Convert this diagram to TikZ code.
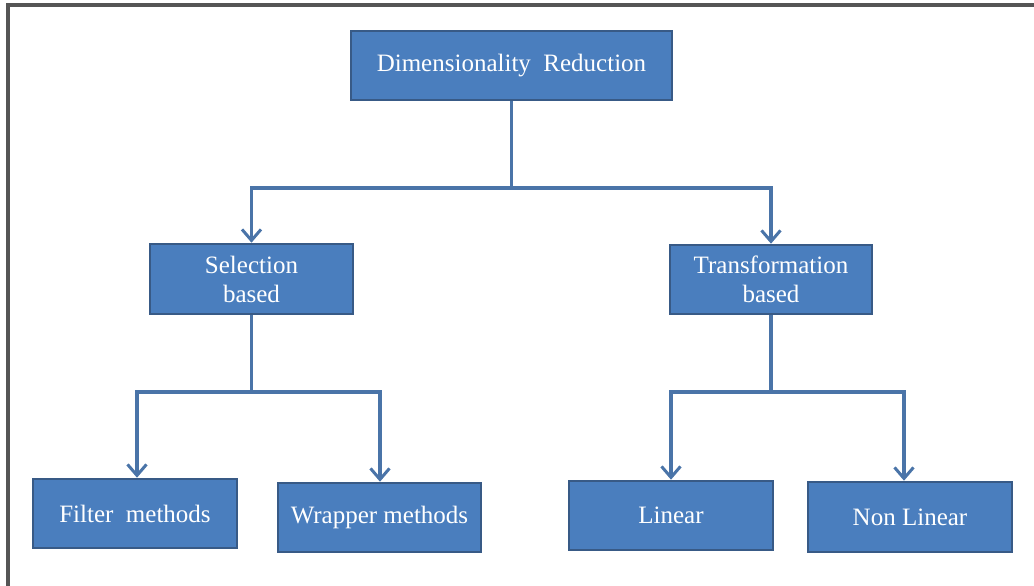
\documentclass[tikz,border=0pt]{standalone}
\usepackage{fontspec}
\setmainfont{Liberation Serif}
\usetikzlibrary{arrows.meta}
\definecolor{boxfill}{HTML}{4A7EBE}
\definecolor{boxedge}{HTML}{385A86}
\definecolor{linkcol}{HTML}{4A74A8}
\definecolor{framecol}{HTML}{555555}
\tikzset{
  box/.style={draw=boxedge, line width=2.6pt, fill=boxfill, text=white,
    minimum height=69pt, align=center, inner sep=2pt,
    font=\fontsize{25}{29}\selectfont},
  link/.style={draw=linkcol, line width=3.4pt},
  arrowlink/.style={link, -{Straight Barb[length=11pt, width=19pt, line width=3pt]}},
}
\begin{document}
\begin{tikzpicture}[x=1pt, y=-1pt]
\useasboundingbox (0,0) rectangle (1034,586);
% open frame: top and left edges
\draw[framecol, line width=3.2pt] (8,586) -- (8,5) -- (1034,5);

% root
\node[box, minimum width=321pt] (dr) at (511.5,65.5) {Dimensionality\ \ Reduction};
% second level
\node[box, minimum width=203pt, minimum height=70pt] (sb) at (251.5,279) {Selection\\based};
\node[box, minimum width=202pt] (tb) at (771,279.5) {Transformation\\based};
% leaves
\node[box, minimum width=204pt] (fm) at (135,513.5) {Filter\ \ methods};
\node[box, minimum width=203pt] (wm) at (379.5,517.5) {Wrapper methods};
\node[box, minimum width=204pt] (li) at (671,515.5) {Linear};
\node[box, minimum width=204pt, minimum height=70pt] (nl) at (910,517) {Non Linear};

% junction points
\coordinate (j0) at (511.5,188);
\coordinate (j1) at (251.5,392);
\coordinate (j2) at (771,392);

% connectors
\draw[link] (dr.south) -- (j0);
\draw[arrowlink] (j0) -| (sb.north);
\draw[arrowlink] (j0) -| (tb.north);

\draw[link] (sb.south) -- (j1);
\draw[arrowlink] (j1) -| ([xshift=2pt]fm.north);
\draw[arrowlink] (j1) -| ([xshift=0.5pt]wm.north);

\draw[link] (tb.south) -- (j2);
\draw[arrowlink] (j2) -| (li.north);
\draw[arrowlink] (j2) -| ([xshift=-6pt]nl.north);
\end{tikzpicture}
\end{document}
